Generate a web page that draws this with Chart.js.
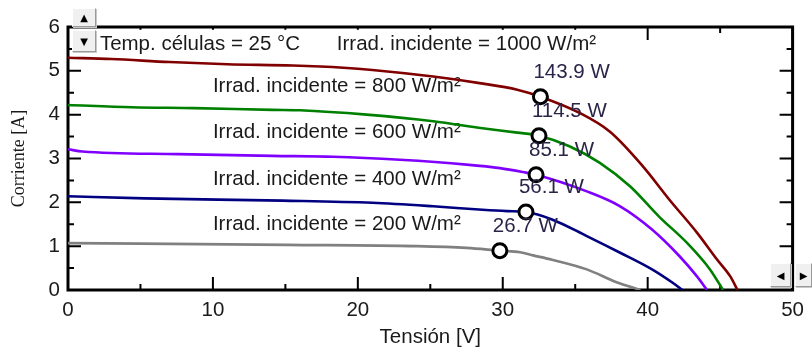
<!DOCTYPE html>
<html lang="es">
<head>
<meta charset="utf-8">
<title>Curvas I-V</title>
<script src="https://cdn.jsdelivr.net/npm/chart.js@4.4.1/dist/chart.umd.min.js"></script>
<style>
  html, body { margin: 0; padding: 0; background: #fff; }
  #caja { position: relative; width: 812px; height: 351px; }
  .boton {
    position: absolute; box-sizing: border-box;
    background: #f0f0f0;
    border: 1px solid; border-color: #fff #9a9a9a #9a9a9a #fff;
    box-shadow: 1px 1px 0 #c8c8c8;
    font: 10px 'DejaVu Sans', sans-serif; color: #000;
    display: flex; align-items: center; justify-content: center;
  }
</style>
</head>
<body>
<div id="caja">
  <canvas id="curvasIV" width="812" height="351"></canvas>
  <div class="boton" style="left:72px;top:8px;width:24px;height:19px;">▲</div>
  <div class="boton" style="left:72px;top:30px;width:24px;height:22px;">▼</div>
  <div class="boton" style="left:770px;top:263px;width:21px;height:24px;">◀</div>
  <div class="boton" style="left:795px;top:263px;width:17px;height:24px;">▶</div>
</div>

<script>
// ====================================================
// DATOS
// ====================================================
const tension1000   = [0, 3, 7, 11, 15.5, 19, 21, 25.2, 28.4, 31, 32.6, 35.3, 37.4, 39.7, 41.5, 43.4, 44.8, 45.7, 46.2];
const corriente1000 = [5.30, 5.27, 5.20, 5.15, 5.12, 5.07, 5.02, 4.87, 4.72, 4.57, 4.41, 4.04, 3.61, 2.81, 2.06, 1.31, 0.69, 0.31, 0];

const tension800    = [0, 4.4, 8.7, 14.1, 16, 20.6, 25.2, 28.6, 31, 32.5, 34.6, 36.7, 38.8, 40.8, 42.7, 44.3, 45.2];
const corriente800  = [4.22, 4.17, 4.15, 4.11, 4.10, 4.00, 3.85, 3.69, 3.59, 3.52, 3.28, 2.90, 2.36, 1.67, 1.08, 0.47, 0];

const tension600    = [0, 1, 7.6, 14.1, 18.3, 22.9, 27.5, 29.8, 31.4, 32.3, 35.8, 38.1, 40.3, 42.2, 43.4, 44.1];
const corriente600  = [3.21, 3.16, 3.10, 3.06, 3.04, 2.97, 2.86, 2.78, 2.69, 2.63, 2.25, 1.91, 1.38, 0.77, 0.31, 0];

const tension400    = [0, 5.3, 14.8, 21, 25.2, 28.6, 30.3, 31.6, 33.4, 35.8, 38.1, 40.3, 41.7, 42.4];
const corriente400  = [2.14, 2.09, 2.04, 1.99, 1.91, 1.83, 1.80, 1.78, 1.61, 1.23, 0.85, 0.47, 0.17, 0];

const tension200    = [0, 15.1, 24.1, 27.5, 29.8, 31.2, 32.1, 33.4, 35.8, 37.9, 39.5];
const corriente200  = [1.07, 1.03, 1.00, 0.96, 0.896, 0.86, 0.79, 0.69, 0.47, 0.17, 0];

// Puntos de máxima potencia
const tensionMPP   = [32.6, 32.5, 32.3, 31.6, 29.8];
const corrienteMPP = [4.41, 3.52, 2.63, 1.78, 0.896];
const potenciaMPP  = ['143.9 W', '114.5 W', '85.1 W', '56.1 W', '26.7 W'];

// Marcas de los ejes
const ticksX        = [0, 10, 20, 30, 40, 50];
const ticksXMenores = [5, 15, 25, 35, 45];
const ticksY        = [0, 1, 2, 3, 4, 5, 6];
const ticksYMenores = [0.5, 1.5, 2.5, 3.5, 4.5, 5.5];

// Textos dentro del gráfico (anclados en unidades de los ejes)
const textos = [
  { txt: 'Temp. células = 25 °C',        v: 2.2,   i: 5.48 },
  { txt: 'Irrad. incidente = 1000 W/m²', v: 18.55, i: 5.48 },
  { txt: 'Irrad. incidente = 800 W/m²',  v: 10,    i: 4.52 },
  { txt: 'Irrad. incidente = 600 W/m²',  v: 10,    i: 3.47 },
  { txt: 'Irrad. incidente = 400 W/m²',  v: 10,    i: 2.40 },
  { txt: 'Irrad. incidente = 200 W/m²',  v: 10,    i: 1.38 }
];

const FUENTE = "'Liberation Sans', Arial, sans-serif";
const TAM = 20.5;
const COR_TEXTO = '#1a1a1a';

const pares = (xs, ys) => xs.map((x, k) => ({ x: x, y: ys[k] }));

function curva(xs, ys, color) {
  return {
    data: pares(xs, ys),
    showLine: true,
    borderColor: color,
    borderWidth: 2.6,
    pointRadius: 0,
    cubicInterpolationMode: 'monotone',
    order: 1
  };
}

// ====================================================
// PLUGIN: marco, marcas hacia dentro y textos
// ====================================================
const marcoPlugin = {
  id: 'marco',
  beforeDatasetsDraw(chart) {
    const { ctx, chartArea: a, scales } = chart;
    const sx = scales.x, sy = scales.y;
    ctx.save();
    ctx.strokeStyle = '#000';
    ctx.lineWidth = 2;
    const marcaX = (v, largo) => {
      const p = sx.getPixelForValue(v);
      ctx.beginPath();
      ctx.moveTo(p, a.bottom); ctx.lineTo(p, a.bottom - largo);
      ctx.moveTo(p, a.top);    ctx.lineTo(p, a.top + largo);
      ctx.stroke();
    };
    const marcaY = (v, largo) => {
      const p = sy.getPixelForValue(v);
      ctx.beginPath();
      ctx.moveTo(a.left, p);  ctx.lineTo(a.left + largo, p);
      ctx.moveTo(a.right, p); ctx.lineTo(a.right - largo, p);
      ctx.stroke();
    };
    ticksX.forEach(v => marcaX(v, 13));
    ticksXMenores.forEach(v => marcaX(v, 6));
    ticksY.forEach(v => marcaY(v, 13));
    ticksYMenores.forEach(v => marcaY(v, 6));

    ctx.lineWidth = 3;
    ctx.strokeRect(a.left, a.top, a.right - a.left, a.bottom - a.top);

    // textos con fondo blanco
    ctx.font = TAM + 'px ' + FUENTE;
    ctx.textAlign = 'left';
    ctx.textBaseline = 'alphabetic';
    textos.forEach(t => {
      const x = sx.getPixelForValue(t.v);
      const y = sy.getPixelForValue(t.i);
      const w = ctx.measureText(t.txt).width;
      ctx.fillStyle = '#fff';
      ctx.fillRect(x - 3, y - 20, w + 6, 25);
      ctx.fillStyle = COR_TEXTO;
      ctx.fillText(t.txt, x, y);
    });
    ctx.restore();
  },
  afterDatasetsDraw(chart) {
    const { ctx, scales } = chart;
    ctx.save();
    ctx.font = TAM + 'px ' + FUENTE;
    ctx.fillStyle = '#2a2448';
    ctx.textAlign = 'left';
    ctx.textBaseline = 'alphabetic';
    potenciaMPP.forEach((txt, k) => {
      const x = scales.x.getPixelForValue(tensionMPP[k]);
      const y = scales.y.getPixelForValue(corrienteMPP[k]);
      ctx.fillText(txt, x - 7, y - 18.5);
    });
    ctx.restore();
  }
};

// ====================================================
// GRÁFICO
// ====================================================
const ctx = document.getElementById('curvasIV').getContext('2d');
new Chart(ctx, {
  type: 'scatter',
  data: {
    datasets: [
      {
        data: pares(tensionMPP, corrienteMPP),
        pointRadius: 7,
        pointBorderWidth: 3,
        pointBackgroundColor: '#fff',
        pointBorderColor: '#000',
        showLine: false,
        order: 0
      },
      curva(tension1000, corriente1000, '#800000'),
      curva(tension800, corriente800, '#008000'),
      curva(tension600, corriente600, '#8000ff'),
      curva(tension400, corriente400, '#000080'),
      curva(tension200, corriente200, '#808080')
    ]
  },
  options: {
    responsive: false,
    animation: false,
    layout: { padding: { top: 27, right: 19, left: 0, bottom: 0 } },
    plugins: {
      legend: { display: false },
      tooltip: { enabled: false }
    },
    scales: {
      x: {
        type: 'linear', min: 0, max: 50,
        grid: { display: false, drawTicks: false },
        border: { display: false },
        afterBuildTicks: s => { s.ticks = ticksX.map(v => ({ value: v })); },
        afterFit: s => { s.height = 61; },
        ticks: { font: { family: FUENTE, size: TAM }, color: COR_TEXTO, padding: 8, maxRotation: 0 },
        title: {
          display: true, text: 'Tensión [V]', color: COR_TEXTO,
          font: { family: FUENTE, size: TAM }, padding: { top: 0, bottom: 1 }
        }
      },
      y: {
        type: 'linear', min: 0, max: 6,
        grid: { display: false, drawTicks: false },
        border: { display: false },
        afterBuildTicks: s => { s.ticks = ticksY.map(v => ({ value: v })); },
        afterFit: s => { s.width = 68; },
        ticks: { font: { family: FUENTE, size: TAM }, color: COR_TEXTO, padding: 8 },
        title: {
          display: true, text: 'Corriente [A]', color: COR_TEXTO,
          font: { family: "'Liberation Serif', 'Times New Roman', serif", size: 18 },
          padding: { top: 8, bottom: 0 }
        }
      }
    }
  },
  plugins: [marcoPlugin]
});
</script>
</body>
</html>
